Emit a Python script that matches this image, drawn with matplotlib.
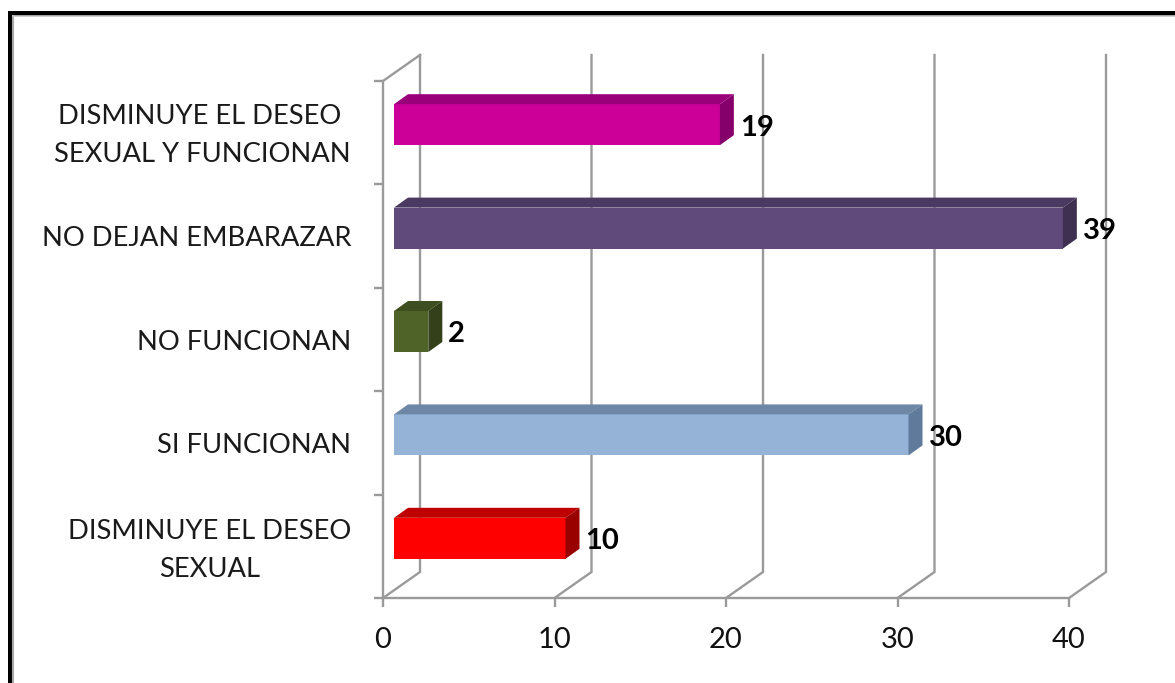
import matplotlib
matplotlib.use('Agg')
import matplotlib.pyplot as plt
from matplotlib.lines import Line2D
from matplotlib.patches import Polygon
from matplotlib.transforms import ScaledTranslation

categories = ['DISMINUYE EL DESEO\nSEXUAL', 'SI FUNCIONAN', 'NO FUNCIONAN',
              'NO DEJAN EMBARAZAR', 'DISMINUYE EL DESEO \nSEXUAL Y FUNCIONAN']
values = [10, 30, 2, 39, 19]
front_colors = ['#FF0000', '#95B3D7', '#4F6228', '#604A7B', '#CC0099']
top_colors = ['#BF0000', '#6F87A6', '#3F4E20', '#4A3960', '#99007A']
side_colors = ['#990000', '#5F7A9B', '#33401A', '#3F3052', '#85006A']
x_ticks = [0, 10, 20, 30, 40]

W, H = 1175, 683
plt.rcParams['font.family'] = ['Lato', 'DejaVu Sans']

fig = plt.figure(figsize=(W / 100, H / 100), dpi=100)
fig.patch.set_facecolor('white')

# plot rectangle in pixels
x0, x1 = 383, 1069
y_top, y_bot = 81, 598
ax = fig.add_axes([x0 / W, 1 - y_bot / H, (x1 - x0) / W, (y_bot - y_top) / H])
ax.set_xlim(0, 40)
ax.set_ylim(0, 5)
ax.patch.set_visible(False)

# sizes converted from pixels to data units
px_x = 40 / (x1 - x0)
px_y = 5 / (y_bot - y_top)
wall_dx, wall_dy = 37 * px_x, 26 * px_y
gap = 11 * px_x
bar_h = 41 * px_y
bar_shift = 8 * px_y
depth_x, depth_y = 14 * px_x, 10 * px_y

grey = '#9A9A9A'
for t in x_ticks:
    ax.plot([t, t + wall_dx, t + wall_dx], [0, wall_dy, 5 + wall_dy],
            color=grey, lw=1.7, clip_on=False, zorder=1, solid_joinstyle='miter')
ax.plot([0, wall_dx], [5, 5 + wall_dy], color=grey, lw=1.7, clip_on=False, zorder=1)

for i, v in enumerate(values):
    lo = i + 0.5 + bar_shift - bar_h / 2
    hi = lo + bar_h
    ax.barh(lo, v, height=bar_h, left=gap, align='edge', color=front_colors[i], zorder=3)
    ax.add_patch(Polygon([(gap, hi), (gap + depth_x, hi + depth_y),
                          (gap + v + depth_x, hi + depth_y), (gap + v, hi)],
                         facecolor=top_colors[i], edgecolor='none', clip_on=False, zorder=3))
    ax.add_patch(Polygon([(gap + v, lo), (gap + v + depth_x, lo + depth_y),
                          (gap + v + depth_x, hi + depth_y), (gap + v, hi)],
                         facecolor=side_colors[i], edgecolor='none', clip_on=False, zorder=3))
    ax.text(gap + v + depth_x + 6 * px_x, lo + bar_h / 2 - 3 * px_y, str(v), ha='left', va='center',
            fontsize=21, fontweight='bold', color='black', zorder=5, clip_on=False)

for s in ['top', 'right']:
    ax.spines[s].set_visible(False)
for s in ['left', 'bottom']:
    ax.spines[s].set_color(grey)
    ax.spines[s].set_linewidth(1.7)

ax.set_xticks(x_ticks)
ax.tick_params(axis='x', length=6.5, width=1.7, color=grey, pad=14.5, labelsize=21, labelcolor='#111111')
ax.set_yticks(range(6))
ax.set_yticklabels([])
ax.tick_params(axis='y', which='major', length=6.5, width=1.7, color=grey)
ax.set_yticks([i + 0.5 for i in range(5)], minor=True)
ax.set_yticklabels(categories, minor=True, fontsize=19.7, color='#1A1A1A',
                   multialignment='center', linespacing=1.62)
ax.tick_params(axis='y', which='minor', length=0, pad=23)

# the two-line labels sit a little higher than the one-line ones
for lab, shift in zip(ax.get_yticklabels(minor=True), [4.5, 0, 0, 0, 6]):
    if shift:
        lab.set_transform(lab.get_transform() + ScaledTranslation(0, shift / 100, fig.dpi_scale_trans))

# picture frame, cut off at the right and bottom
for xs, ys, c, lw in [([10, 10], [13, H], 'black', 3.6), ([10, W], [13, 13], 'black', 3.6),
                      ([13, 13], [16, H], '#A8A8A8', 1.5), ([13, W], [16, 16], '#C8C8C8', 1.2)]:
    fig.add_artist(Line2D([p / W for p in xs], [1 - p / H for p in ys], color=c, lw=lw,
                          solid_capstyle='projecting'))

fig.savefig('out.png', dpi=100)
